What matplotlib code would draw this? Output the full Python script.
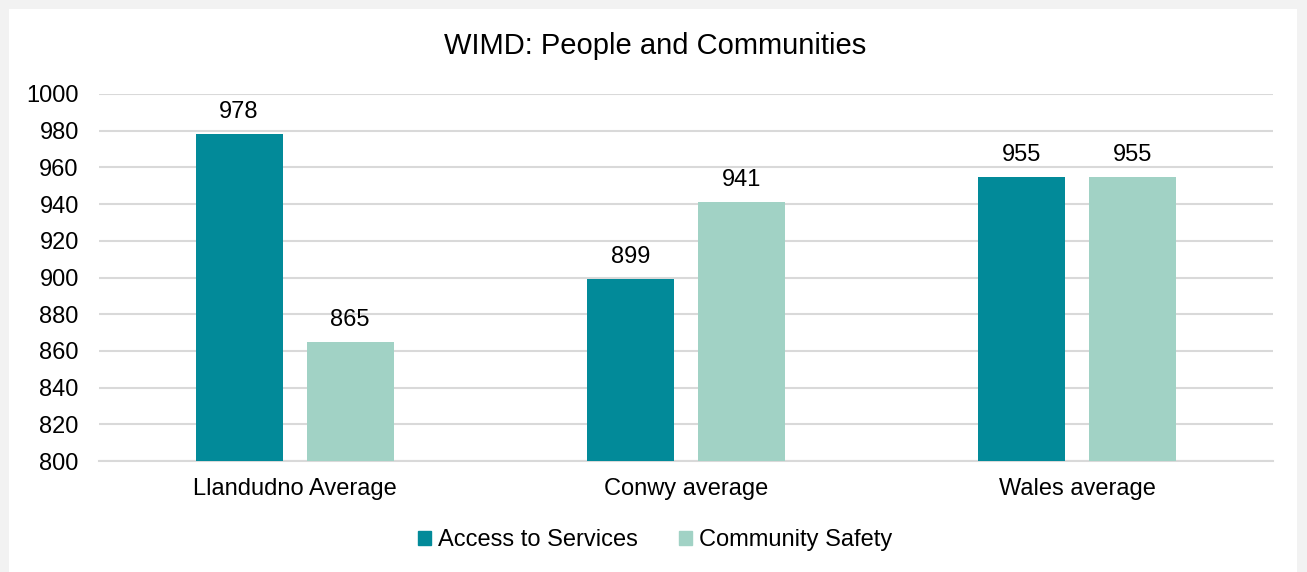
import matplotlib
matplotlib.use('Agg')
import matplotlib.pyplot as plt
import matplotlib.patches as mpatches
import numpy as np

plt.rcParams['font.family'] = ['Liberation Sans', 'DejaVu Sans']

categories = ['Llandudno Average', 'Conwy average', 'Wales average']
series_names = ['Access to Services', 'Community Safety']
access = [978, 899, 955]
safety = [865, 941, 955]
yticks = [800, 820, 840, 860, 880, 900, 920, 940, 960, 980, 1000]

COLORS = ['#028A99', '#A1D2C5']
W, H = 1307, 572
FS = 17

fig = plt.figure(figsize=(W / 100, H / 100), dpi=100, facecolor='#F2F2F2')
# white chart area inside a light grey frame
fig.patches.append(mpatches.Rectangle((9 / W, 0), (1297 - 9) / W, (H - 9) / H,
                                      transform=fig.transFigure, facecolor='white',
                                      edgecolor='none', zorder=-10))

ax = fig.add_axes([99 / W, 1 - 461 / H, (1273 - 99) / W, (461 - 94) / H])
ax.set_facecolor('none')

x = np.arange(len(categories))
bw = 0.222
off = 0.142
for vals, dx, col, name in [(access, -off, COLORS[0], series_names[0]),
                            (safety, off, COLORS[1], series_names[1])]:
    bars = ax.bar(x + dx, [v - 800 for v in vals], bottom=800, width=bw,
                  color=col, label=name, zorder=3)
    for b, v in zip(bars, vals):
        ax.text(b.get_x() + b.get_width() / 2, v + 6, str(v), ha='center',
                va='bottom', fontsize=FS, color='#000000')

ax.set_xlim(-0.5, 2.5)
ax.set_ylim(800, 1000)
ax.set_yticks(yticks)
ax.set_yticklabels([str(t) for t in yticks], fontsize=FS)
ax.set_xticks(x)
ax.set_xticklabels(categories, fontsize=FS)
ax.tick_params(axis='y', length=0, pad=14.5)
ax.tick_params(axis='x', length=0, pad=12)
ax.grid(axis='y', color='#D9D9D9', linewidth=1.5, zorder=0)
for s in ['top', 'right', 'left']:
    ax.spines[s].set_visible(False)
ax.spines['bottom'].set_color('#D9D9D9')
ax.spines['bottom'].set_linewidth(1.5)

fig.text(655 / W, 1 - 46 / H, 'WIMD: People and Communities', ha='center',
         va='center', fontsize=21)

handles = [mpatches.Patch(color=c) for c in COLORS]
fig.legend(handles, series_names, loc='center', bbox_to_anchor=(655 / W, 1 - 540 / H),
           ncol=2, frameon=False, fontsize=FS, handlelength=0.55, handleheight=0.55,
           handletextpad=0.3, columnspacing=1.75)

fig.savefig('out.png', dpi=100, facecolor=fig.get_facecolor())
